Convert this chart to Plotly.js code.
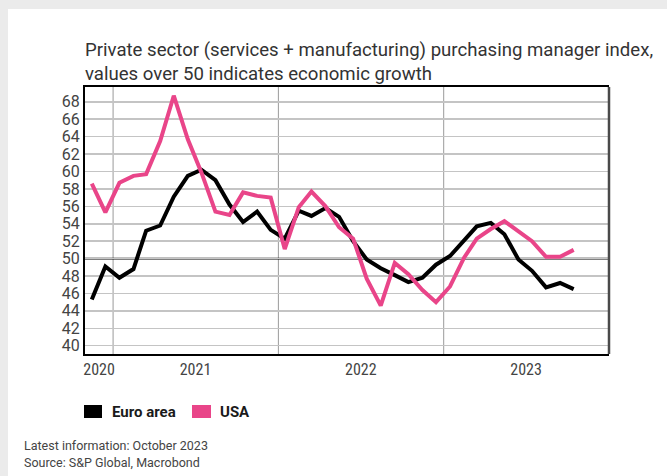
<!DOCTYPE html>
<html>
<head>
<meta charset="utf-8">
<script src="https://cdn.plot.ly/plotly-3.0.1.min.js"></script>
<style>
  html, body { margin:0; padding:0; background:#ffffff; }
  #chart { width:667px; height:476px; position:absolute; left:0; top:0; }
  .strip { position:absolute; background:#ebebeb; pointer-events:none; }
</style>
</head>
<body>
<div id="chart"></div>
<div class="strip" style="left:0;top:0;width:8px;height:476px;"></div>
<div class="strip" style="left:0;top:0;width:667px;height:9px;"></div>
<script>
// ---- data ----
const months = [
  '2020-11','2020-12',
  '2021-01','2021-02','2021-03','2021-04','2021-05','2021-06','2021-07','2021-08','2021-09','2021-10','2021-11','2021-12',
  '2022-01','2022-02','2022-03','2022-04','2022-05','2022-06','2022-07','2022-08','2022-09','2022-10','2022-11','2022-12',
  '2023-01','2023-02','2023-03','2023-04','2023-05','2023-06','2023-07','2023-08','2023-09','2023-10'
];
const euroArea = [
  45.3, 49.1,
  47.8, 48.8, 53.2, 53.8, 57.1, 59.5, 60.2, 59.0, 56.2, 54.2, 55.4, 53.3,
  52.3, 55.5, 54.9, 55.8, 54.8, 52.0, 49.9, 48.9, 48.1, 47.3, 47.8, 49.3,
  50.3, 52.0, 53.7, 54.1, 52.8, 49.9, 48.6, 46.7, 47.2, 46.5
];
const usa = [
  58.6, 55.3,
  58.7, 59.5, 59.7, 63.5, 68.7, 63.7, 59.9, 55.4, 55.0, 57.6, 57.2, 57.0,
  51.1, 55.9, 57.7, 56.0, 53.6, 52.3, 47.7, 44.6, 49.5, 48.2, 46.4, 45.0,
  46.8, 50.1, 52.3, 53.4, 54.3, 53.2, 52.0, 50.2, 50.2, 51.0
];
const seriesNames = ['Euro area', 'USA'];
const seriesColors = ['#000000', '#E94589'];
const yearLabels = ['2020', '2021', '2022', '2023'];
const yearLabelDates = ['2020-12-01', '2021-07-02', '2022-07-02', '2023-07-02'];
const yearBoundaries = ['2021-01-01', '2022-01-01', '2023-01-01'];
const titleText = 'Private sector (services + manufacturing) purchasing manager index,<br>values over 50 indicates economic growth';
const footerLines = ['Latest information: October 2023', 'Source: S&P Global, Macrobond'];

// ---- layout helpers ----
const W = 667, H = 476;
const M = {l: 85, r: 58, t: 87, b: 122};
const PW = W - M.l - M.r, PH = H - M.t - M.b;
const px = x => (x - M.l) / PW;
const py = y => (H - M.b - y) / PH;

const xDates = months.map(m => m + '-15');

const traces = [euroArea, usa].map((vals, i) => ({
  type: 'scatter', mode: 'lines',
  x: xDates, y: vals, name: seriesNames[i],
  line: {color: seriesColors[i], width: 4, shape: 'linear'},
  showlegend: false, hoverinfo: 'skip'
}));

const shapes = [];
yearBoundaries.forEach(d => shapes.push({
  type: 'line', xref: 'x', yref: 'paper', x0: d, x1: d, y0: 0, y1: 1,
  line: {color: '#9a9a9a', width: 1}, layer: 'between'
}));
shapes.push({type: 'line', xref: 'paper', yref: 'y', x0: 0, x1: 1, y0: 50, y1: 50,
  line: {color: '#000', width: 1.6}, layer: 'between'});
shapes.push({type: 'line', xref: 'paper', yref: 'paper', x0: 1, x1: 1, y0: 0, y1: 1,
  line: {color: '#4a4a4a', width: 2.5}, layer: 'above'});

// legend squares
const legendSquares = [[84, 102], [192, 211]];
legendSquares.forEach((s, i) => shapes.push({
  type: 'rect', xref: 'paper', yref: 'paper',
  x0: px(s[0]), x1: px(s[1]), y0: py(418), y1: py(405),
  fillcolor: seriesColors[i], line: {width: 0}
}));

const annotations = [];
const legendTextX = [110, 218];
seriesNames.forEach((n, i) => annotations.push({
  xref: 'paper', yref: 'paper', x: px(legendTextX[i]), y: py(411.5),
  xanchor: 'left', yanchor: 'middle', showarrow: false, text: '<b>' + n + '</b>',
  font: {family: 'Roboto, sans-serif', size: 15, color: '#1a1a1a'}
}));
const footerY = [445, 462];
footerLines.forEach((t, i) => annotations.push({
  xref: 'paper', yref: 'paper', x: px(22), y: py(footerY[i]),
  xanchor: 'left', yanchor: 'middle', showarrow: false, text: t,
  font: {family: 'Roboto, sans-serif', size: 12.5, color: '#444'}
}));

const layout = {
  width: W, height: H,
  margin: M,
  paper_bgcolor: '#fff', plot_bgcolor: '#fff',
  title: {
    text: titleText, xref: 'paper', x: 0, xanchor: 'left',
    yref: 'container', y: 1 - 56 / H, yanchor: 'top',
    font: {family: 'Roboto, sans-serif', size: 18.6, color: '#333'}
  },
  xaxis: {
    type: 'date', range: ['2020-10-31', '2024-01-01'],
    tickmode: 'array', tickvals: yearLabelDates, ticktext: yearLabels,
    showgrid: false, zeroline: false, ticks: '',
    showline: true, linecolor: '#000', linewidth: 2, mirror: true,
    tickfont: {family: '"Liberation Sans Narrow", "Roboto Condensed", Roboto, sans-serif', size: 16, color: '#444'}
  },
  yaxis: {
    range: [39.05, 69.7], tickmode: 'linear', tick0: 40, dtick: 2,
    showgrid: true, gridcolor: '#c4c4c4', gridwidth: 1.5, zeroline: false,
    ticks: '', showline: true, linecolor: '#000', linewidth: 2,
    tickfont: {family: 'Roboto, sans-serif', size: 16, color: '#444'}
  },
  shapes: shapes,
  annotations: annotations,
  showlegend: false
};

Plotly.newPlot('chart', traces, layout, {staticPlot: true, displayModeBar: false});
</script>
</body>
</html>
